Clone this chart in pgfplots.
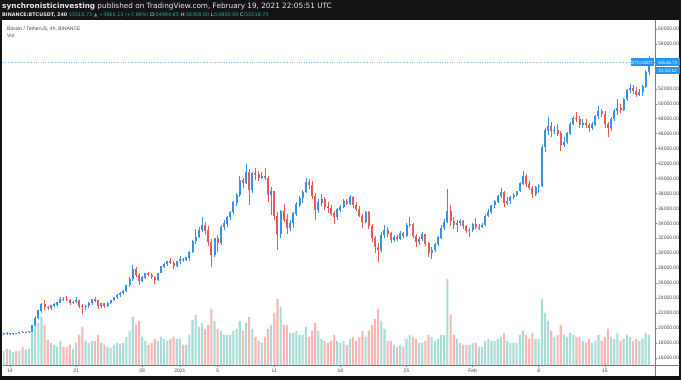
\documentclass[border=0pt]{standalone}
\usepackage{pgfplots}
\pgfplotsset{compat=1.18}
\usepackage{pgfplotstable}
\usepackage{fontspec}
\setmainfont{Liberation Sans}
\newfontfamily\symfont{DejaVu Sans}
\newfontfamily\hdrfont{DejaVu Sans}
\definecolor{frame}{RGB}{20,20,22}
\definecolor{upc}{RGB}{52,146,232}
\definecolor{dnc}{RGB}{236,88,88}
\definecolor{volup}{RGB}{168,221,214}
\definecolor{voldn}{RGB}{248,182,180}
\definecolor{axc}{RGB}{120,123,134}
\definecolor{txt}{RGB}{70,70,70}
\definecolor{tvblue}{RGB}{33,150,243}
\definecolor{hgreen}{RGB}{38,166,154}
\pgfplotsset{candle/.style={only marks, mark=*, mark options={opacity=0}, mark size=0.1pt,
  error bars/.cd, y dir=plus, y explicit, error mark=none}}
\pgfplotstableread{
t o h l c v
-2 19250 19380 19120 19320 14
-1 19320 19410 19050 19170 16
0 19170 19300 19000 19230 15
1 19230 19350 19120 19310 13
2 19310 19350 19150 19270 14
3 19270 19440 19250 19400 14
4 19400 19570 19300 19380 18
5 19380 19500 19280 19440 15
6 19440 19580 19300 19500 16
7 19500 20400 19480 20350 35
8 20350 21560 20300 21350 45
9 21350 22400 21200 22300 42
10 22300 23300 22000 23100 48
11 23100 23800 22350 22800 40
12 22800 23000 22400 22650 25
13 22650 23100 22350 23000 22
14 23000 23290 22800 23130 20
15 23130 23500 22950 23400 18
16 23400 24170 23300 23900 24
17 23900 24100 23600 23860 18
18 23860 24300 23600 23750 18
19 23750 23900 23100 23400 20
20 23400 23650 23200 23480 16
21 23480 24100 23300 23700 22
22 23700 23800 22700 22900 30
23 22900 23200 21815 22745 38
24 22745 23100 22350 22950 24
25 22950 23500 22700 23300 22
26 23300 23850 23100 23820 24
27 23820 24100 23500 23650 24
28 23650 23750 22600 22900 30
29 22900 23400 22700 23250 22
30 23250 23400 22700 22950 20
31 22950 23450 22850 23350 18
32 23350 23800 23200 23720 17
33 23720 24200 23600 24100 20
34 24100 24500 23900 24400 22
35 24400 24780 24150 24700 21
36 24700 25100 24500 24900 22
37 24900 25800 24800 25700 28
38 25700 26870 25500 26490 34
39 26490 28420 26300 27900 48
40 27900 28100 26800 27100 40
41 27100 27300 25700 26280 44
42 26280 26900 26100 26750 28
43 26750 27400 26500 27300 24
44 27300 27500 26900 27080 20
45 27080 27400 26600 26800 22
46 26800 27000 25900 26400 26
47 26400 27400 26300 27380 24
48 27380 28300 27300 28200 28
49 28200 28700 28000 28500 26
50 28500 28990 28300 28880 24
51 28880 29300 28500 28700 26
52 28700 28900 27850 28300 28
53 28300 29000 28100 28920 26
54 28920 29600 28600 29200 26
55 29200 29400 28800 29100 20
56 29100 29500 28900 29410 20
57 29410 30300 29000 30100 30
58 30100 31800 30000 31600 45
59 31600 33300 31200 32180 50
60 32180 33500 32000 33100 38
61 33100 34800 32800 33800 42
62 33800 34200 32500 33000 36
63 33000 33600 31000 31500 40
64 31500 31900 28130 29800 56
65 29800 32100 29500 32000 44
66 32000 32400 30200 31400 36
67 31400 33800 31100 33500 34
68 33500 34500 33100 33950 30
69 33950 35000 33500 34800 30
70 34800 35700 34400 35500 30
71 35500 36940 35200 36770 34
72 36770 38000 36300 37800 36
73 37800 40365 37500 39700 44
74 39700 40100 38700 39430 34
75 39430 41950 39200 40800 42
76 40800 41300 36500 38500 48
77 38500 40800 38000 40670 36
78 40670 41380 39800 40500 28
79 40500 41000 39700 40100 24
80 40100 40800 39900 40240 22
81 40240 41350 39800 40000 28
82 40000 40300 36900 37800 36
83 37800 38800 35100 38240 40
84 38240 38300 34500 35000 52
85 35000 35500 30420 32600 66
86 32600 35800 32000 35550 58
87 35550 36600 34200 34500 40
88 34500 35200 32530 33400 40
89 33400 34500 33000 34000 32
90 34000 35500 33400 35300 32
91 35300 36800 35000 36500 34
92 36500 37700 36200 37390 30
93 37390 38500 36700 38200 30
94 38200 40100 38000 39500 38
95 39500 39900 38600 39150 28
96 39150 39700 37200 37600 34
97 37600 38000 34400 35800 42
98 35800 37300 35400 36770 34
99 36770 37950 36300 37200 26
100 37200 37500 35800 36200 24
101 36200 36800 35400 36000 22
102 36000 36500 35000 35300 24
103 35300 35600 33850 34800 30
104 34800 36000 34500 35820 24
105 35820 36400 35500 36200 22
106 36200 37300 36000 36900 24
107 36900 37200 36400 36630 20
108 36630 37850 36500 37500 26
109 37500 37600 36000 36400 28
110 36400 36800 35600 35890 24
111 35890 36300 34800 35000 28
112 35000 35200 33400 34200 34
113 34200 35600 34000 35470 28
114 35470 35600 33200 33600 34
115 33600 33900 31500 32000 40
116 32000 32300 30070 30830 46
117 30830 31400 28850 30400 56
118 30400 32800 30100 32400 44
119 32400 33800 32000 33000 36
120 33000 33500 32200 32600 24
121 32600 32900 31400 31800 24
122 31800 32400 31500 32100 20
123 32100 32400 31600 31900 18
124 31900 32950 31800 32700 20
125 32700 32800 32100 32290 18
126 32290 34000 32200 33800 26
127 33800 34880 33500 33900 30
128 33900 34000 32000 32250 28
129 32250 32600 30840 31500 26
130 31500 32200 31100 31900 22
131 31900 32900 31700 32500 22
132 32500 32600 31000 31300 24
133 31300 31500 29500 30000 30
134 30000 30800 29240 30400 28
135 30400 31400 30100 31200 24
136 31200 32300 31000 32100 26
137 32100 33800 31900 33400 30
138 33400 34600 33100 34200 30
139 34200 38530 34000 35600 86
140 35600 36500 33600 34260 50
141 34260 34900 33300 33800 30
142 33800 34400 32900 34000 26
143 34000 34600 33700 34300 22
144 34300 34500 33300 33600 20
145 33600 33800 32700 33000 20
146 33000 33400 32200 33100 20
147 33100 34000 32900 33900 22
148 33900 34700 33300 33500 22
149 33500 33900 33100 33520 18
150 33520 34000 33400 33800 18
151 33800 35200 33700 35000 24
152 35000 35900 34800 35500 26
153 35500 36500 35300 36400 24
154 36400 37100 36100 36900 24
155 36900 37800 36700 37680 26
156 37680 38700 37400 38100 28
157 38100 38300 36160 36700 32
158 36700 37500 36400 36980 24
159 36980 37700 36600 37500 22
160 37500 38000 37200 37800 22
161 37800 38300 37600 38300 22
162 38300 39500 38200 39300 30
163 39300 40950 39100 40300 34
164 40300 40600 38900 39260 30
165 39260 39700 38400 38700 26
166 38700 39000 37350 37900 32
167 37900 39000 37700 38830 26
168 38830 39300 38000 39000 26
169 39000 44500 38800 44200 66
170 44200 46750 43500 46400 52
171 46400 48200 45800 47000 44
172 47000 47500 45600 46300 34
173 46300 47000 45900 46500 28
174 46500 47300 45700 46000 30
175 46000 46300 43730 44500 40
176 44500 45600 44200 44850 30
177 44850 46200 44600 46000 28
178 46000 47600 45800 47300 32
179 47300 48400 47100 48000 30
180 48000 48900 47500 47900 28
181 47900 48300 46700 47200 28
182 47200 47900 46800 47400 24
183 47400 47900 46800 47100 22
184 47100 47400 46200 46700 26
185 46700 47500 46500 47190 22
186 47190 48500 47000 48300 24
187 48300 49700 48000 49000 30
188 49000 49300 48200 48600 24
189 48600 49000 46800 47300 28
190 47300 47600 45570 46700 36
191 46700 48200 46400 47940 28
192 47940 49300 47700 49000 26
193 49000 50600 48500 49400 32
194 49400 49900 48800 49150 24
195 49150 50800 49000 50600 26
196 50600 52000 50300 51800 30
197 51800 52600 51500 52120 28
198 52120 52500 51300 51700 24
199 51700 52300 50900 51200 26
200 51200 52000 51000 51550 24
201 51550 52500 51000 52300 26
202 52300 54500 52100 54200 32
203 54200 56368 53900 55518.73 30
}\data
\begin{document}
\begin{tikzpicture}
\useasboundingbox (-3pt,-15pt) rectangle (678pt,365pt);
\fill[frame] (-3pt,-15pt) rectangle (678pt,365pt);
\fill[white] (-1pt,-11pt) rectangle (676pt,345pt);
% volume
\begin{axis}[scale only axis, width=652pt, height=345pt,
  xmin=-2.22, xmax=204.96, ymin=0, ymax=345, hide axis]
\addplot[ybar, bar width=2.1pt, bar shift=0pt, fill=volup, draw=none]
  table[x=t, y expr={\thisrow{c}>=\thisrow{o} ? \thisrow{v} : nan}]{\data};
\addplot[ybar, bar width=2.1pt, bar shift=0pt, fill=voldn, draw=none]
  table[x=t, y expr={\thisrow{c}<\thisrow{o} ? \thisrow{v} : nan}]{\data};
\end{axis}
% price
\begin{axis}[scale only axis, width=652pt, height=345pt,
  xmin=-2.22, xmax=204.96, ymin=15045, ymax=61204,
  axis x line*=bottom, axis y line*=right,
  axis line style={draw=axc, line width=0.6pt, -},
  xtick={0,21,42,54,66,84,105,126,147,168,189},
  xticklabels={14,21,28,2021,5,11,18,25,Feb,8,15},
  ytick={16000,18000,20000,22000,24000,26000,28000,30000,32000,34000,36000,38000,40000,42000,44000,46000,48000,50000,52000,58000,60000},
  scaled y ticks=false,
  /pgf/number format/.cd, fixed, fixed zerofill, precision=2, 1000 sep={}, assume math mode=true,
  /pgfplots/.cd,
  tick align=outside, major tick length=2pt,
  tick style={draw=axc, line width=0.4pt},
  ticklabel style={font=\fontsize{5}{6}\selectfont, text=txt},
  yticklabel style={inner sep=1pt},
  xticklabel style={inner sep=1.5pt},
  clip=false]
\addplot[forget plot, tvblue!60, dotted, line width=0.35pt] coordinates {(-2.22,55518.73) (204.96,55518.73)};
% wicks up
\addplot[candle, error bar style={line width=0.5pt, draw=upc}]
  table[x=t, y expr={\thisrow{c}>=\thisrow{o} ? \thisrow{l} : nan}, y error expr={\thisrow{h}-\thisrow{l}}]{\data};
% bodies up
\addplot[candle, error bar style={line width=2pt, draw=upc}]
  table[x=t, y expr={\thisrow{c}>=\thisrow{o} ? \thisrow{o} : nan}, y error expr={\thisrow{c}-\thisrow{o}+40}]{\data};
% wicks down
\addplot[candle, error bar style={line width=0.5pt, draw=dnc}]
  table[x=t, y expr={\thisrow{c}<\thisrow{o} ? \thisrow{l} : nan}, y error expr={\thisrow{h}-\thisrow{l}}]{\data};
% bodies down
\addplot[candle, error bar style={line width=2pt, draw=dnc}]
  table[x=t, y expr={\thisrow{c}<\thisrow{o} ? \thisrow{c} : nan}, y error expr={\thisrow{o}-\thisrow{c}+40}]{\data};
\node[fill=tvblue, text=white, font=\fontsize{4.6}{5}\selectfont, inner sep=0pt, minimum width=25pt, minimum height=8pt, anchor=west] at (axis cs:204.96,55518.73) {55518.73};
\node[fill=tvblue, text=white, font=\fontsize{4.6}{5}\selectfont, inner sep=0pt, minimum width=25pt, minimum height=7pt, anchor=north west] at ([yshift=-4.5pt]axis cs:204.96,55518.73) {01:54:10};
\node[fill=tvblue, text=white, font=\fontsize{4.6}{5}\selectfont, inner sep=0pt, minimum width=23pt, minimum height=8pt, anchor=east] at ([xshift=-1pt]axis cs:204.96,55518.73) {BTCUSDT};
\end{axis}
\draw[axc, line width=0.6pt] (652pt,0pt) -- (676pt,0pt);
\draw[axc, line width=0.6pt] (652pt,-11pt) -- (652pt,0pt);
\node[anchor=base west, inner sep=0pt, text=white!92!black, font=\hdrfont\fontsize{7.3}{8}\selectfont] at (-1pt,356pt) {\textbf{synchronisticinvesting} published on TradingView.com, February 19, 2021 22:05:51 UTC};
\node[anchor=base west, inner sep=0pt, text=white!92!black, font=\hdrfont\fontsize{4.9}{6}\selectfont] at (-1pt,348.5pt) {\textbf{BINANCE:BTCUSDT, 240} \textcolor{hgreen}{55518.73 ▲ +3966.13 (+7.69\%)} O:\textcolor{hgreen}{54994.85} H:\textcolor{hgreen}{56368.00} L:\textcolor{hgreen}{54800.00} C:\textcolor{hgreen}{55518.73}};
\node[anchor=base west, inner sep=0pt, text=txt, font=\fontsize{5}{6}\selectfont] at (4pt,334pt) {Bitcoin / TetherUS, 4h, BINANCE};
\node[anchor=base west, inner sep=0pt, text=txt, font=\fontsize{5}{6}\selectfont] at (4pt,327pt) {Vol};
\end{tikzpicture}
\end{document}
